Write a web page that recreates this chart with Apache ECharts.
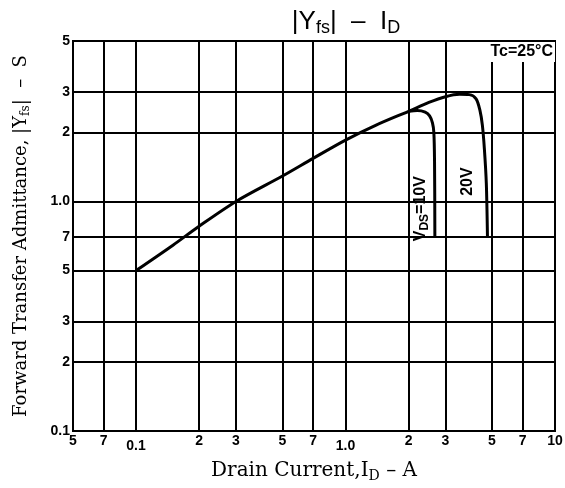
<!DOCTYPE html>
<html>
<head>
<meta charset="utf-8"/>
<title>|Yfs| - ID</title>
<script src="https://cdn.jsdelivr.net/npm/echarts@6/dist/echarts.min.js"></script>
<style>
    html, body { margin: 0; padding: 0; background: #fff; }
    #main { width: 565px; height: 488px; }
</style>
</head>
<body>
<div id="main"></div>
<script type="text/javascript">
// tick values / labels (log axes)
var xTicks = [0.05, 0.07, 0.1, 0.2, 0.3, 0.5, 0.7, 1, 2, 3, 5, 7, 10];
var xTickLabels = ['5', '7', '0.1', '2', '3', '5', '7', '1.0', '2', '3', '5', '7', '10'];
var yTicks = [0.1, 0.2, 0.3, 0.5, 0.7, 1, 2, 3, 5];
var yTickLabels = ['0.1', '2', '3', '5', '7', '1.0', '2', '3', '5'];

// curves: [ID (A), |Yfs| (S)]
var curve20V = [[0.1, 0.5], [0.15, 0.645], [0.2, 0.78], [0.3, 1.0], [0.5, 1.29], [0.7, 1.54],
    [1.0, 1.85], [1.4, 2.15], [2.0, 2.47], [2.5, 2.7], [3.0, 2.86], [3.5, 2.93], [3.9, 2.92],
    [4.2, 2.8], [4.38, 2.5], [4.5, 2.15], [4.6, 1.7], [4.7, 1.2], [4.76, 0.7]];
var curve10V = [[2.0, 2.47], [2.2, 2.49], [2.4, 2.45], [2.52, 2.36], [2.6, 2.2], [2.64, 2.0],
    [2.66, 1.5], [2.67, 0.7]];

// annotation positions
var label10V = [2.28, 0.93];
var label20V = [3.81, 1.22];

var sans = 'Liberation Sans';
var serif = 'DejaVu Serif';

var myChart = echarts.init(document.getElementById('main'));

var gridLineStyle = {color: '#000', width: 2, type: 'solid'};
var tickLabel = {show: true, position: 'start', distance: 3, color: '#000',
    fontFamily: sans, fontWeight: 'bold', fontSize: 14};

// decade labels (0.1, 1.0) sit a bit lower in the original
var xLines = xTicks.map(function (v, i) {
    var lbl = {formatter: xTickLabels[i]};
    if (xTickLabels[i].indexOf('.') >= 0) {
        lbl.distance = 8;
    }
    return {xAxis: v, label: lbl};
});
var yLines = yTicks.map(function (v, i) {
    return {yAxis: v, label: {formatter: yTickLabels[i]}};
});

var option = {
    animation: false,
    backgroundColor: '#fff',
    title: [{
        text: '|Y{s|fs}|  \u2013  I{s|D}',
        left: 341,
        top: 1,
        textAlign: 'center',
        textStyle: {
            color: '#000', fontFamily: sans, fontSize: 26, fontWeight: 'normal',
            rich: {s: {fontSize: 18, padding: [13, 0, 0, 0], fontFamily: sans}}
        }
    }, {
        text: 'Tc=25\u00b0C',
        right: 10,
        top: 42,
        padding: [2, 2, 2, 4],
        backgroundColor: '#fff',
        textStyle: {color: '#000', fontFamily: sans, fontSize: 16, fontWeight: 'bold'}
    }],
    grid: {
        left: 73, right: 10, top: 41, bottom: 54,
        show: true, borderColor: '#000', borderWidth: 2
    },
    xAxis: {
        type: 'log', logBase: 10, min: 0.05, max: 10,
        name: 'Drain Current,I{s|D} \u2013 A',
        nameLocation: 'middle',
        nameGap: 28,
        nameTextStyle: {
            color: '#000', fontFamily: serif, fontSize: 20,
            rich: {s: {fontSize: 14, padding: [10, 0, 0, 0], fontFamily: serif}}
        },
        axisLine: {show: true, lineStyle: {color: '#000', width: 2}},
        axisTick: {show: false},
        axisLabel: {show: false},
        splitLine: {show: false}
    },
    yAxis: {
        type: 'log', logBase: 10, min: 0.1, max: 5,
        name: 'Forward Transfer Admittance, |Y{s|fs}|  \u2013  S',
        nameLocation: 'middle',
        nameRotate: 90,
        nameGap: 41,
        nameTextStyle: {
            color: '#000', fontFamily: serif, fontSize: 18,
            rich: {s: {fontSize: 12, padding: [10, 0, 0, 0], fontFamily: serif}}
        },
        axisLine: {show: true, lineStyle: {color: '#000', width: 2}},
        axisTick: {show: false},
        axisLabel: {show: false},
        splitLine: {show: false}
    },
    series: [{
        name: '20V',
        type: 'line',
        data: curve20V,
        smooth: 0.3,
        showSymbol: false,
        silent: true,
        lineStyle: {color: '#000', width: 3},
        markLine: {
            silent: true,
            symbol: ['none', 'none'],
            lineStyle: gridLineStyle,
            label: tickLabel,
            data: xLines
        },
        markPoint: {
            silent: true,
            symbolSize: 0,
            label: {show: true, position: 'inside', rotate: 90, color: '#000',
                fontFamily: sans, fontWeight: 'bold', fontSize: 16},
            data: [{coord: label20V, value: '20V', label: {formatter: '20V'}}]
        }
    }, {
        name: 'VDS=10V',
        type: 'line',
        data: curve10V,
        smooth: 0.3,
        showSymbol: false,
        silent: true,
        lineStyle: {color: '#000', width: 3},
        markLine: {
            silent: true,
            symbol: ['none', 'none'],
            lineStyle: gridLineStyle,
            label: tickLabel,
            data: yLines
        },
        markPoint: {
            silent: true,
            symbolSize: 0,
            label: {show: true, position: 'inside', rotate: 90, color: '#000',
                fontFamily: sans, fontWeight: 'bold', fontSize: 16,
                rich: {s: {fontSize: 12, fontWeight: 'bold', fontFamily: sans, padding: [8, 0, 0, 0]}}},
            data: [{coord: label10V, value: 10, label: {formatter: 'V{s|DS}=10V'}}]
        }
    }]
};

myChart.setOption(option);
</script>
</body>
</html>
